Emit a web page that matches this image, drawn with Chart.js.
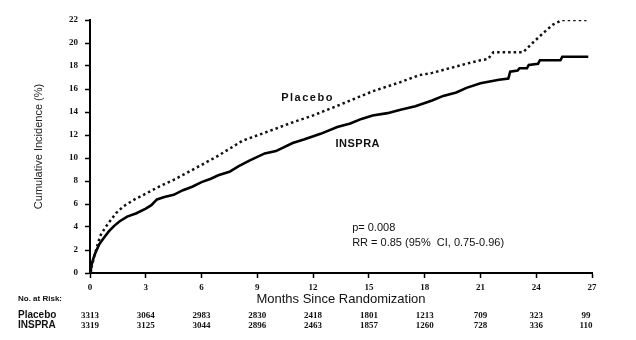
<!DOCTYPE html>
<html>
<head>
<meta charset="utf-8">
<script src="https://cdn.jsdelivr.net/npm/chart.js@4"></script>
<style>
  html, body { margin: 0; padding: 0; background: #fff; }
  #wrap { width: 636px; height: 340px; }
</style>
</head>
<body>
<div id="wrap"><canvas id="grafico"></canvas></div>
<script>
// Kaplan-Meier style cumulative incidence
const placeboMonths = [0, 0.1, 0.27, 0.54, 0.8, 1.07, 1.4, 1.8, 2.4, 3.0, 3.7, 4.5, 5.2, 6.0, 6.9, 7.5, 8.2, 9.4, 10.9, 12.0, 13.4, 15.2, 16.7, 17.7, 18.4, 20.25, 21.0, 21.4, 21.7, 23.3, 23.8, 24.4, 24.9, 25.4, 26.7];
const placeboPct    = [0, 0.6, 1.7, 3.2, 3.9, 4.5, 5.2, 5.8, 6.4, 6.9, 7.5, 8.1, 8.7, 9.4, 10.2, 10.8, 11.5, 12.2, 13.1, 13.7, 14.6, 15.8, 16.6, 17.2, 17.4, 18.2, 18.5, 18.6, 19.2, 19.2, 20.0, 20.9, 21.6, 22.0, 22.0];

const inspraMonths = [0, 0.05, 0.15, 0.25, 0.36, 0.5, 0.72, 1.0, 1.3, 1.6, 2.0, 2.5, 3.0, 3.3, 3.6, 4.0, 4.5, 5.0, 5.5, 6.0, 6.5, 6.9, 7.5, 8.0, 8.6, 9.4, 10.0, 10.9, 11.5, 12.4, 13.3, 14.0, 14.6, 15.2, 16.0, 16.7, 17.5, 18.4, 19.0, 19.7, 20.25, 21.0, 22.0, 22.5, 22.6, 23.0, 23.1, 23.5, 23.6, 24.1, 24.2, 25.3, 25.4, 26.8];
const inspraPct    = [0, 0.5, 1.1, 1.6, 2.0, 2.5, 3.0, 3.6, 4.1, 4.5, 4.9, 5.2, 5.6, 5.9, 6.4, 6.6, 6.8, 7.2, 7.5, 7.9, 8.2, 8.5, 8.8, 9.3, 9.8, 10.4, 10.6, 11.3, 11.6, 12.1, 12.7, 13.0, 13.4, 13.7, 13.9, 14.2, 14.5, 15.0, 15.4, 15.7, 16.1, 16.5, 16.8, 16.9, 17.5, 17.6, 17.8, 17.8, 18.1, 18.2, 18.5, 18.5, 18.8, 18.8];

// numbers at risk
const riskMonths  = [0, 3, 6, 9, 12, 15, 18, 21, 24, 27];
const riskPlacebo = [3313, 3064, 2983, 2830, 2418, 1801, 1213, 709, 323, 99];
const riskInspra  = [3319, 3125, 3044, 2896, 2463, 1857, 1260, 728, 336, 110];

const toPoints = (xs, ys) => xs.map((x, i) => ({ x: x, y: ys[i] }));

// textos sobre o grafico (posicoes em unidades de dados)
const textosPlugin = {
    id: 'textos',
    afterDraw(chart) {
        const ctx = chart.ctx;
        const xs = chart.scales.x;
        const ys = chart.scales.y;
        ctx.save();
        ctx.fillStyle = '#111';
        ctx.textBaseline = 'middle';

        ctx.textAlign = 'center';
        ctx.font = 'bold 11px "Liberation Sans", Arial, sans-serif';
        ctx.letterSpacing = '1.5px';
        ctx.fillText('Placebo', xs.getPixelForValue(11.7), ys.getPixelForValue(15.2));
        ctx.letterSpacing = '0.5px';
        ctx.fillText('INSPRA', xs.getPixelForValue(14.4), ys.getPixelForValue(11.26));
        ctx.letterSpacing = '0px';

        ctx.textAlign = 'left';
        ctx.font = '11px "Liberation Sans", Arial, sans-serif';
        ctx.fillText('p= 0.008', xs.getPixelForValue(14.1), ys.getPixelForValue(3.9));
        ctx.fillText('RR = 0.85 (95%  CI, 0.75-0.96)', xs.getPixelForValue(14.1), ys.getPixelForValue(2.65));

        // tabela de risco
        ctx.font = 'bold 8px "Liberation Sans", Arial, sans-serif';
        ctx.fillText('No. at Risk:', 18, 299);
        ctx.font = 'bold 10px "Liberation Sans", Arial, sans-serif';
        ctx.fillText('Placebo', 18, 315.5);
        ctx.fillText('INSPRA', 18, 325.5);

        ctx.textAlign = 'center';
        ctx.font = 'bold 9px "Liberation Serif", serif';
        riskMonths.forEach((m, i) => {
            let px = xs.getPixelForValue(m);
            if (i === riskMonths.length - 1) px -= 6;
            ctx.fillText(String(riskPlacebo[i]), px, 315.5);
            ctx.fillText(String(riskInspra[i]), px, 325.5);
        });
        ctx.restore();
    }
};

const ctx = document.getElementById('grafico').getContext('2d');
const chart = new Chart(ctx, {
    type: 'line',
    data: {
        datasets: [{
            label: 'Placebo',
            data: toPoints(placeboMonths, placeboPct),
            borderColor: '#111',
            borderWidth: 2.5,
            borderDash: [2.5, 3],
            pointRadius: 0,
            fill: false,
            tension: 0
        }, {
            label: 'INSPRA',
            data: toPoints(inspraMonths, inspraPct),
            borderColor: '#000',
            borderWidth: 2.6,
            pointRadius: 0,
            fill: false,
            tension: 0
        }]
    },
    options: {
        responsive: true,
        maintainAspectRatio: false,
        animation: false,
        layout: { padding: { top: 20, right: 44, bottom: 0, left: 0 } },
        plugins: {
            legend: { display: false },
            tooltip: { enabled: false }
        },
        scales: {
            x: {
                type: 'linear',
                min: 0,
                max: 27,
                afterFit: function(scale) { scale.height = 67; },
                border: { color: '#000', width: 2 },
                grid: { drawOnChartArea: false, color: '#000', tickLength: 5, tickWidth: 1.5 },
                ticks: {
                    stepSize: 3,
                    padding: 4,
                    color: '#111',
                    font: { family: '"Liberation Serif", serif', size: 9, weight: 'bold' }
                },
                title: {
                    display: true,
                    text: 'Months Since Randomization',
                    color: '#111',
                    font: { family: '"Liberation Sans", Arial, sans-serif', size: 13 },
                    padding: { top: 0, bottom: 33 }
                }
            },
            y: {
                min: 0,
                max: 22,
                afterFit: function(scale) { scale.width = 90; },
                border: { color: '#000', width: 2 },
                grid: { drawOnChartArea: false, color: '#000', tickLength: 5, tickWidth: 1.5 },
                ticks: {
                    stepSize: 2,
                    padding: 7,
                    color: '#111',
                    font: { family: '"Liberation Serif", serif', size: 9, weight: 'bold' }
                },
                title: {
                    display: true,
                    text: 'Cumulative Incidence (%)',
                    color: '#222',
                    font: { family: '"Liberation Sans", Arial, sans-serif', size: 11 },
                    padding: { top: 32, bottom: 0 }
                }
            }
        }
    },
    plugins: [textosPlugin]
});
</script>
</body>
</html>
